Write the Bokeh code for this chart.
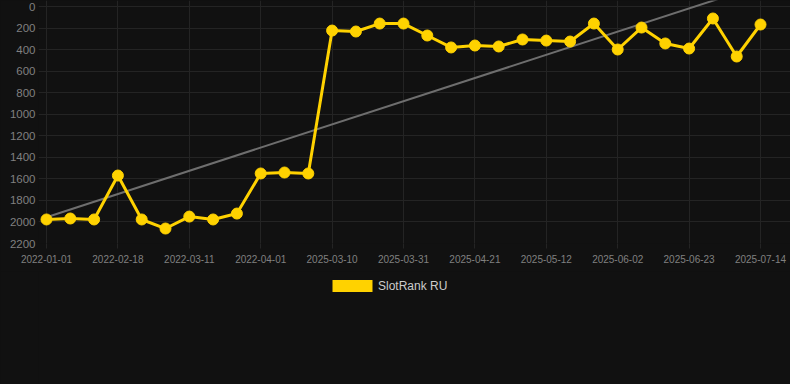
from bokeh.plotting import figure
from bokeh.layouts import column
from bokeh.models import ColumnDataSource, Range1d, FixedTicker, Legend, LegendItem
from bokeh.embed import file_html
from bokeh.resources import INLINE

# ---- data ----
dates = ["2022-01-01", "2022-01-17", "2022-02-02", "2022-02-18", "2022-02-25", "2022-03-04",
         "2022-03-11", "2022-03-18", "2022-03-25", "2022-04-01", "2025-02-21", "2025-03-01",
         "2025-03-10", "2025-03-17", "2025-03-24", "2025-03-31", "2025-04-07", "2025-04-14",
         "2025-04-21", "2025-04-28", "2025-05-05", "2025-05-12", "2025-05-19", "2025-05-26",
         "2025-06-02", "2025-06-09", "2025-06-16", "2025-06-23", "2025-06-30", "2025-07-07",
         "2025-07-14"]
rank = [1977, 1968, 1977, 1569, 1977, 2061, 1950, 1977, 1922, 1550, 1541, 1550,
        223, 232, 158, 158, 269, 380, 362, 371, 306, 316, 325, 158, 399, 195, 343,
        390, 111, 464, 167]
trend_idx = [0, 30]
trend_val = [1956, -198]
y_ticks = [0, 200, 400, 600, 800, 1000, 1200, 1400, 1600, 1800, 2000, 2200]
series_name = "SlotRank RU"

BG = "#111111"
GOLD = "#FFD200"
GRID = "#242424"
FONT = "Liberation Sans"

idx = list(range(len(rank)))
src = ColumnDataSource(dict(x=idx, y=rank))

p = figure(width=790, height=271, output_backend="svg", toolbar_location=None,
           x_range=Range1d(-0.336, 31.26), y_range=Range1d(2200, -56),
           background_fill_color=BG, border_fill_color=BG, outline_line_color=None,
           min_border_left=38, min_border_right=0, min_border_top=0, min_border_bottom=28)

p.line(trend_idx, trend_val, line_color="#6e6e6e", line_width=2)
p.line("x", "y", source=src, line_color=GOLD, line_width=3)
p.scatter("x", "y", source=src, size=11, fill_color=GOLD, line_color=GOLD)

p.xaxis.ticker = FixedTicker(ticks=idx[::3])
p.xaxis.major_label_overrides = {i: dates[i] for i in idx[::3]}
p.yaxis.ticker = FixedTicker(ticks=y_ticks)

for ax in (p.xaxis, p.yaxis):
    ax.axis_line_color = None
    ax.major_tick_line_color = GRID
    ax.minor_tick_line_color = None
    ax.major_label_text_font = FONT
    ax.major_label_text_color = "#808080"
p.xaxis.major_tick_in = 0
p.xaxis.major_tick_out = 5
p.yaxis.major_tick_in = 0
p.yaxis.major_tick_out = 0
p.xaxis.major_label_text_font_size = "10px"
p.yaxis.major_label_text_font_size = "11.5px"
p.yaxis.major_label_standoff = 3
p.xaxis.major_label_standoff = 6

p.xgrid.grid_line_color = GRID
p.ygrid.grid_line_color = GRID
p.xgrid.ticker = FixedTicker(ticks=idx[::3])
p.ygrid.ticker = FixedTicker(ticks=y_ticks)

# ---- legend strip (separate small figure so the legend is not clipped) ----
lf = figure(width=790, height=113, output_backend="svg", toolbar_location=None,
            x_range=Range1d(0, 1), y_range=Range1d(0, 1),
            background_fill_color=BG, border_fill_color=BG, outline_line_color=None,
            min_border=0)
lf.axis.visible = False
lf.grid.visible = False
swatch = lf.quad(left=[0], right=[0], top=[0], bottom=[0], fill_color=GOLD, line_color=None)

legend = Legend(items=[LegendItem(label=series_name, renderers=[swatch])],
                location=(289, 91), orientation="horizontal",
                background_fill_alpha=0, border_line_color=None,
                label_text_font=FONT, label_text_font_size="12px",
                label_text_color="#cccccc", glyph_width=50, glyph_height=15,
                padding=4, margin=0, label_standoff=1)
lf.add_layout(legend, "center")

page = column(p, lf, spacing=0, styles={"background-color": BG})

open("out.html", "w").write(file_html(page, INLINE))
